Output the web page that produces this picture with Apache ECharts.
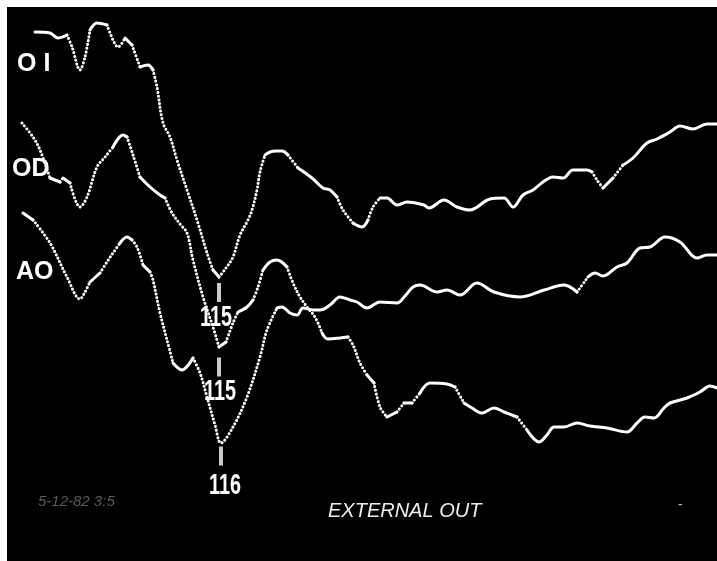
<!DOCTYPE html>
<html>
<head>
<meta charset="utf-8">
<title>VEP</title>
<script src="https://cdn.jsdelivr.net/npm/echarts/dist/echarts.min.js"></script>
<style>
  html, body { margin: 0; padding: 0; background: #fff; }
  #chart { width: 717px; height: 561px; }
</style>
</head>
<body>
<div id="chart"></div>
<script>
// Visual evoked potential traces: [latency (ms), amplitude (display units)]
const OI = [[23,529],[30.5,528],[34.5,523],[39,526],[41.5,514],[45.5,491],[48,504],[50.5,531],[54,538],[59,536],[62,521],[64.5,514],[68,523],[71.5,516],[75.5,494],[79.5,496],[82,491],[84,474],[87,438],[90.5,424],[94,401],[99,371],[104,341],[109,308],[112,291],[115,284],[118.5,293],[122,304],[125.5,326],[129.5,341],[131.5,351],[134,371],[135.5,389],[138,406],[140.5,409],[143.5,410],[146.5,410],[149.5,406],[154.5,393],[161.5,383],[167,373],[170.5,371],[174,364],[177,351],[182,338],[186.5,334],[189.5,341],[192,354],[195.5,363],[199,363],[204,356],[209,359],[217.5,356],[220,353],[227.5,361],[234,354],[240.5,351],[250.5,362],[257.5,363],[262,354],[267,366],[272,371],[277,379],[282,384],[287,383],[292,391],[299,391],[301.5,389],[304,381],[307,373],[312,383],[317,396],[322,403],[329,418],[334,422],[340.5,429],[345.5,435],[352,432],[359,437],[364,437]];

const OD = [[16.5,438],[22,424],[25.5,411],[30.5,383],[35.5,379],[37,383],[40.5,378],[45.5,354],[49,364],[54,394],[58,404],[62,414],[67,426],[69,424],[72,406],[75.5,384],[80.5,374],[85.5,366],[88,363],[91.5,348],[95.5,337],[99,328],[102,301],[107,264],[112,234],[115,214],[118.5,219],[122,238],[124.5,249],[129,254],[132,261],[134.5,274],[137,291],[140.5,299],[144,301],[149,294],[152,278],[155.5,264],[159,254],[163,244],[166.5,228],[169.5,222],[175.5,223],[179.5,224],[182,216],[185.5,198],[189,186],[192.5,178],[195.5,154],[199,144],[204,149],[207.5,158],[211.5,158],[215.5,168],[220.5,178],[229,177],[233,174],[237.5,158],[241.5,153],[246.5,148],[252.5,153],[257.5,149],[264,144],[269,131],[275,119],[279,126],[282.5,134],[287.5,134],[294,138],[300.5,135],[309,133],[319,129],[324,138],[328,144],[332.5,143],[337.5,153],[340.5,158],[349,163],[355.5,169],[360.5,175],[364,173]];

const AO = [[17,348],[22,341],[30.5,318],[39,284],[45.5,262],[48,269],[50.5,279],[55.5,288],[59,299],[62,308],[65.5,318],[69,324],[71.5,321],[74,314],[77,296],[80.5,289],[82,281],[85.5,248],[89,221],[92,198],[96.5,191],[102,203],[105.5,188],[109,164],[113,136],[116,118],[122,134],[129,164],[135.5,204],[139,231],[144,253],[146.5,254],[150.5,248],[154,246],[157,253],[162,251],[165.5,251],[170.5,256],[175.5,264],[180.5,261],[184,259],[189,253],[195.5,259],[204,258],[208,265],[212,274],[215.5,276],[224,269],[229,271],[235.5,266],[244,278],[252.5,269],[265.5,264],[277.5,271],[287.5,276],[294,269],[299.5,284],[303,288],[307,285],[314,294],[319,298],[325.5,313],[330.5,314],[338,324],[345.5,319],[354,303],[359,306],[364,306]];

const channels = ['O I', 'OD', 'AO'];
const latencies = [115, 115, 116];

// ---- presentation ----
const TIME_MIN = 9, TIME_MAX = 364;
const AMP_MIN = 0, AMP_MAX = 554;
const STEEP = 2.4;                 // amplitude units per ms beyond which the sweep shows as dots
const TICK_OFFSET = [15.5, 20, 13];
const LATENCY_TEXT_SHIFT = [[-3, 40.5], [1, 44.5], [4, 43]];
const NAME_POS = [[17, 64], [12, 169], [16, 272.5]];

function splitRuns(trace) {
  const runs = [];
  let cur = null;
  for (let i = 1; i < trace.length; i++) {
    const p0 = trace[i - 1], p1 = trace[i];
    const steep = Math.abs(p1[1] - p0[1]) / (p1[0] - p0[0]) > STEEP;
    if (!cur || cur.steep !== steep) {
      cur = { steep: steep, points: [p0] };
      runs.push(cur);
    }
    cur.points.push(p1);
  }
  return runs;
}

const traces = [OI, OD, AO];
const troughs = traces.map(function (trace, k) {
  return trace.find(function (p) { return p[0] === latencies[k]; });
});

const series = [];
traces.forEach(function (trace, k) {
  splitRuns(trace).forEach(function (run) {
    series.push({
      type: 'line',
      data: run.points,
      showSymbol: false,
      smooth: 0.35,
      silent: true,
      animation: false,
      lineStyle: run.steep
        ? { color: '#fff', width: 3, type: [0.1, 3.7], cap: 'round' }
        : { color: '#fff', width: 3, cap: 'round', join: 'round' }
    });
  });
  // latency marker below the trough
  series.push({
    type: 'scatter',
    data: [troughs[k]],
    symbol: 'rect',
    symbolSize: [4, 19],
    symbolOffset: [0, TICK_OFFSET[k]],
    itemStyle: { color: '#fff' },
    silent: true,
    animation: false
  });
});

const graphics = channels.map(function (name, k) {
  return {
    type: 'text',
    x: NAME_POS[k][0],
    y: NAME_POS[k][1],
    silent: true,
    style: {
      text: name,
      fill: '#fff',
      font: 'bold 25px "Liberation Sans", Arial, sans-serif',
      verticalAlign: 'middle',
      textVerticalAlign: 'middle'
    }
  };
});
graphics.push({
  type: 'text', x: 328, y: 511.5, silent: true,
  style: { text: 'EXTERNAL OUT', fill: '#eeeeee', font: 'italic 20px "Liberation Sans", Arial, sans-serif',
           verticalAlign: 'middle', textVerticalAlign: 'middle' }
});
graphics.push({
  type: 'text', x: 38, y: 502, silent: true,
  style: { text: '5-12-82 3:5', fill: '#5a5a5a', font: 'italic 15px "Liberation Sans Narrow", sans-serif',
           verticalAlign: 'middle', textVerticalAlign: 'middle' }
});
graphics.push({
  type: 'text', x: 678, y: 505, silent: true,
  style: { text: '-', fill: '#bbbbbb', font: '14px "Liberation Sans", sans-serif',
           verticalAlign: 'middle', textVerticalAlign: 'middle' }
});

const chart = echarts.init(document.getElementById('chart'));
const option = {
  backgroundColor: '#fff',
  animation: false,
  grid: { left: 7, top: 7, right: 0, bottom: 0, show: true, backgroundColor: '#000', borderWidth: 0 },
  xAxis: { type: 'value', min: TIME_MIN, max: TIME_MAX, show: false },
  yAxis: { type: 'value', min: AMP_MIN, max: AMP_MAX, show: false },
  series: series,
  graphic: graphics
};
chart.setOption(option);

// latency readouts, placed under each trough through the chart's own scales
const latencyText = latencies.map(function (lat, k) {
  const pt = chart.convertToPixel({ gridIndex: 0 }, troughs[k]);
  return {
    type: 'text',
    x: pt[0] + LATENCY_TEXT_SHIFT[k][0],
    y: pt[1] + LATENCY_TEXT_SHIFT[k][1],
    scaleX: 0.66,
    silent: true,
    style: {
      text: String(lat),
      fill: '#fff',
      font: 'bold 30px "Liberation Sans", Arial, sans-serif',
      align: 'center',
      textAlign: 'center',
      verticalAlign: 'middle',
      textVerticalAlign: 'middle'
    }
  };
});
chart.setOption({ graphic: graphics.concat(latencyText) });
</script>
</body>
</html>
